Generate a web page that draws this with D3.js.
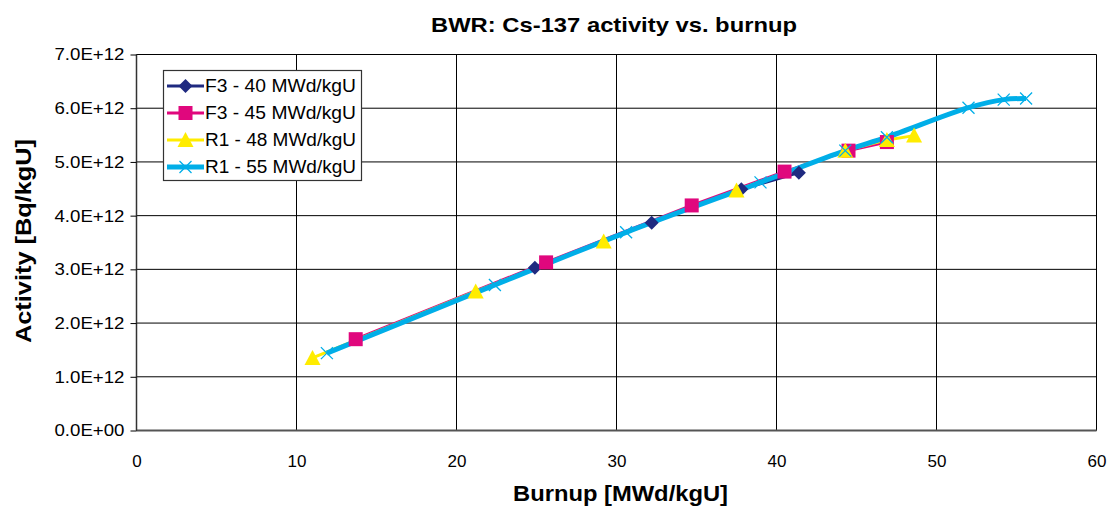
<!DOCTYPE html>
<html><head><meta charset="utf-8">
<script src="https://cdn.jsdelivr.net/npm/d3@7"></script>
<style>body{margin:0;background:#fff;font-family:"Liberation Sans",Arial,sans-serif}</style>
</head><body><svg id="c" width="1116" height="507"></svg>
<script>
const seriesNames = ["F3 - 40 MWd/kgU","F3 - 45 MWd/kgU","R1 - 48 MWd/kgU","R1 - 55 MWd/kgU"];
const f340 = [[24.9,3.03e12],[32.2,3.87e12],[37.8,4.49e12],[41.4,4.80e12]];
const f345 = [[13.7,1.70e12],[25.6,3.13e12],[34.7,4.19e12],[40.5,4.82e12],[44.5,5.21e12],[46.9,5.37e12]];
const r148 = [[11.0,1.35e12],[21.2,2.59e12],[29.2,3.52e12],[37.5,4.47e12],[44.3,5.21e12],[46.9,5.41e12],[48.6,5.49e12]];
const r155 = [[11.9,1.44e12],[22.4,2.71e12],[30.6,3.69e12],[39.0,4.62e12],[44.3,5.21e12],[46.9,5.46e12],[52.0,6.01e12],[54.2,6.16e12],[55.6,6.18e12]];
const xTicks = [0,10,20,30,40,50,60];
const yTicks = [0,1e12,2e12,3e12,4e12,5e12,6e12,7e12];

const svg = d3.select("#c");
const L=136.5, R=1096.5, T=54.5, B=430.5;
const x = d3.scaleLinear().domain([0,60]).range([L,R]);
const y = d3.scaleLinear().domain([0,7e12]).range([B,T]);

const g = svg.append("g");
g.selectAll("line.v").data(xTicks).join("line").attr("x1",d=>x(d)).attr("x2",d=>x(d)).attr("y1",T).attr("y2",B).attr("stroke","#000").attr("stroke-width",1);
g.selectAll("line.h").data(yTicks).join("line").attr("y1",d=>y(d)).attr("y2",d=>y(d)).attr("x1",L).attr("x2",R).attr("stroke","#000").attr("stroke-width",1);
svg.append("line").attr("x1",L).attr("x2",R).attr("y1",B).attr("y2",B).attr("stroke","#555").attr("stroke-width",2);
svg.append("line").attr("x1",L).attr("x2",L).attr("y1",T).attr("y2",B).attr("stroke","#333").attr("stroke-width",1.5);

const xa = svg.append("g").attr("transform",`translate(0,${B})`).call(d3.axisBottom(x).tickValues(xTicks).tickSize(0).tickPadding(24).tickFormat(d3.format("d")));
const ya = svg.append("g").attr("transform",`translate(${L},0)`).call(d3.axisLeft(y).tickValues(yTicks).tickSize(6).tickPadding(6).tickFormat(d=>{const v=d/1e12; return d===0?"0.0E+00":v.toFixed(1)+"E+12";}));
[xa,ya].forEach(a=>{a.select(".domain").remove();a.selectAll("text").attr("font-family","Liberation Sans, Arial, sans-serif").attr("font-size",17).attr("fill","#000");});
ya.selectAll("text").attr("textLength",70).attr("lengthAdjust","spacingAndGlyphs");
ya.selectAll(".tick line").attr("stroke","#000");

const colors = ["#1f2a80","#e0077d","#ffec00","#00aee8"];
const widths = [3,3,3,5];
const datas = [f340,f345,r148,r155];
const curves = [d3.curveLinear,d3.curveLinear,d3.curveLinear,d3.curveCatmullRom];
datas.forEach((d,i)=>{
  svg.append("path").datum(d).attr("fill","none").attr("stroke",colors[i]).attr("stroke-width",widths[i]).attr("stroke-linejoin","round")
    .attr("d",d3.line().x(p=>x(p[0])).y(p=>y(p[1])).curve(curves[i]));
});
function marker(sel,i){
  if(i===0) sel.append("path").attr("d","M0,-7L7,0L0,7L-7,0Z").attr("fill",colors[0]);
  else if(i===1) sel.append("rect").attr("x",-7).attr("y",-7).attr("width",14).attr("height",14).attr("fill",colors[1]);
  else if(i===2) sel.append("path").attr("d","M0,-8L8,7L-8,7Z").attr("fill",colors[2]);
  else sel.append("path").attr("d","M-6,-6L6,6M-6,6L6,-6").attr("stroke",colors[3]).attr("stroke-width",1.3).attr("fill","none");
}
datas.forEach((d,i)=>{
  d.forEach(p=>{ marker(svg.append("g").attr("transform",`translate(${x(p[0])},${y(p[1])})`),i); });
});

const lg = svg.append("g");
lg.append("rect").attr("x",163.5).attr("y",70.5).attr("width",198).attr("height",110).attr("fill","#fff").attr("stroke","#333").attr("stroke-width",1.2);
seriesNames.forEach((n,i)=>{
  const yy = 86 + i*27;
  const gi = lg.append("g");
  gi.append("line").attr("x1",167).attr("x2",204).attr("y1",yy).attr("y2",yy).attr("stroke",colors[i]).attr("stroke-width",widths[i]);
  marker(gi.append("g").attr("transform",`translate(185.5,${yy})`),i);
  gi.append("text").attr("x",205).attr("y",yy+6).attr("font-size",18).attr("textLength",151).attr("lengthAdjust","spacingAndGlyphs").text(n);
});

svg.append("text").attr("x",431).attr("y",32).attr("font-weight","bold").attr("font-size",21).attr("textLength",366).attr("lengthAdjust","spacingAndGlyphs").text("BWR: Cs-137 activity vs. burnup");
svg.append("text").attr("x",513).attr("y",501).attr("font-weight","bold").attr("font-size",22).attr("textLength",215).attr("lengthAdjust","spacingAndGlyphs").text("Burnup [MWd/kgU]");
svg.append("text").attr("transform","translate(31,343) rotate(-90)").attr("font-weight","bold").attr("font-size",22).attr("textLength",204).attr("lengthAdjust","spacingAndGlyphs").text("Activity [Bq/kgU]");
</script></body></html>
